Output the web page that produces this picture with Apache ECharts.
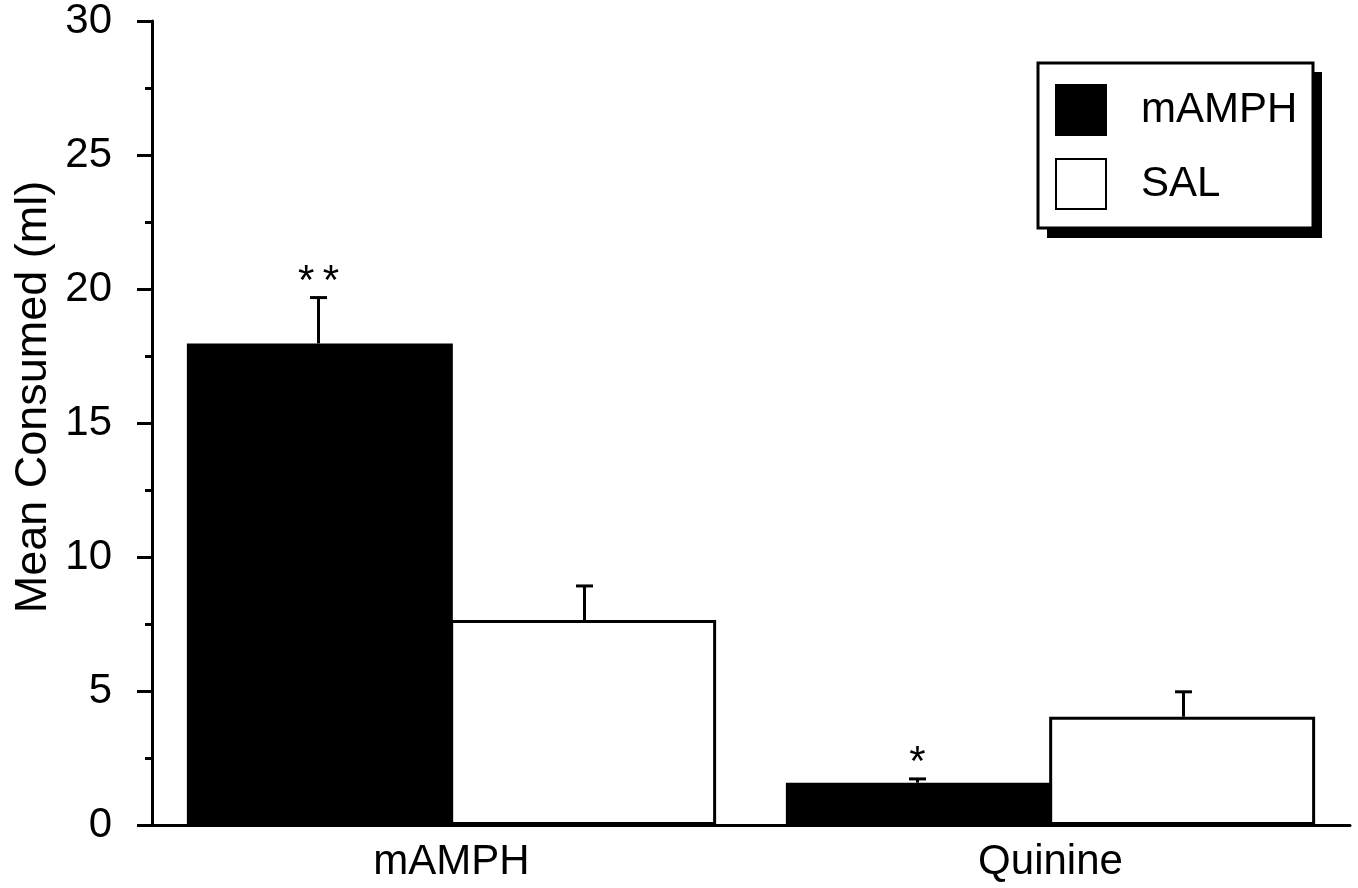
<!DOCTYPE html>
<html>
<head>
<meta charset="utf-8">
<script src="https://cdn.jsdelivr.net/npm/echarts@6/dist/echarts.min.js"></script>
<style>
html,body{margin:0;padding:0;background:#fff;}
#chart{width:1358px;height:888px;}
</style>
</head>
<body>
<div id="chart"></div>
<script>
// ---- data ----
const categories = ['mAMPH', 'Quinine'];
const seriesNames = ['mAMPH', 'SAL'];
const mamphMeans = [17.97, 1.58];
const mamphUpper = [19.68, 1.72];
const salMeans = [7.65, 4.04];
const salUpper = [8.92, 4.97];
const mamphStars = ['**', '*'];
const salStars = ['', ''];
const yTicks = [0, 5, 10, 15, 20, 25, 30];
const yTitle = 'Mean Consumed (ml)';

const FONT = "'Liberation Sans', Arial, sans-serif";
const chart = echarts.init(document.getElementById('chart'));

function errData(means, upper, stars) {
  return means.map((m, i) => [i, m, upper[i], stars[i]]);
}
function errSeries(name, means, upper, stars, sign) {
  return {
    type: 'custom',
    name: name + ' err',
    z: 5,
    silent: true,
    data: errData(means, upper, stars),
    encode: { x: 0, y: [1, 2] },
    renderItem: function (params, api) {
      const xi = api.value(0);
      const top = api.coord([xi, api.value(1)]);
      const hi = api.coord([xi, api.value(2)]);
      const band = api.size([1, 0])[0];
      const cx = top[0] + sign * band * 0.222;
      const cap = 8.5;
      const star = stars[params.dataIndex];
      const children = [
        { type: 'line', shape: { x1: cx, y1: top[1], x2: cx, y2: hi[1] }, style: { stroke: '#000', lineWidth: 3 } },
        { type: 'line', shape: { x1: cx - cap, y1: hi[1], x2: cx + cap, y2: hi[1] }, style: { stroke: '#000', lineWidth: 3 } }
      ];
      if (star) {
        children.push({
          type: 'text',
          style: {
            x: cx, y: hi[1] + 6, text: star.split('').join('\u2009'), fill: '#000',
            font: '42px ' + FONT, textAlign: 'center', textVerticalAlign: 'bottom'
          }
        });
      }
      return { type: 'group', children: children };
    }
  };
}

const option = {
  animation: false,
  backgroundColor: '#fff',
  textStyle: { fontFamily: FONT, color: '#000' },
  grid: { left: 152, right: 8, top: 21, bottom: 63, containLabel: false },
  legend: {
    data: seriesNames,
    orient: 'vertical',
    left: 1038, top: 63,
    z: 20,
    padding: [21, 12, 21, 17],
    itemWidth: 50, itemHeight: 50, itemGap: 22,
    backgroundColor: 'transparent',
    borderWidth: 0,
    icon: 'rect',
    textStyle: { fontSize: 42, fontFamily: FONT, color: '#000', padding: [0, 0, 0, 30] }
  },
  xAxis: {
    type: 'category',
    data: categories,
    axisLine: { lineStyle: { color: '#000', width: 3 } },
    axisTick: { alignWithLabel: true, length: 7, lineStyle: { color: '#000', width: 3 } },
    axisLabel: { fontSize: 42, fontFamily: FONT, color: '#000', margin: 16 },
    splitLine: { show: false }
  },
  yAxis: {
    type: 'value',
    min: yTicks[0], max: yTicks[yTicks.length - 1], interval: 5,
    axisLine: { show: true, lineStyle: { color: '#000', width: 3 } },
    axisTick: { show: true, length: 15, lineStyle: { color: '#000', width: 3 } },
    minorTick: { show: true, splitNumber: 2, length: 7, lineStyle: { color: '#000', width: 3 } },
    axisLabel: { fontSize: 42, fontFamily: FONT, color: '#000', margin: 40 },
    splitLine: { show: false }
  },
  graphic: [
    {
      type: 'rect', z: 1,
      shape: { x: 1047, y: 72, width: 275, height: 166 },
      style: { fill: '#000' }
    },
    {
      type: 'rect', z: 2,
      shape: { x: 1038, y: 63, width: 275, height: 165 },
      style: { fill: '#fff', stroke: '#000', lineWidth: 3 }
    },
    {
      type: 'text',
      x: 34, y: 397,
      rotation: Math.PI / 2,
      style: { text: yTitle, font: '45px ' + FONT, fill: '#000', textAlign: 'center', textVerticalAlign: 'middle' }
    }
  ],
  series: [
    {
      name: seriesNames[0], type: 'bar', data: mamphMeans,
      barWidth: '44.4%', barGap: '-1%',
      itemStyle: { color: '#000', borderColor: '#000', borderWidth: 3 }
    },
    {
      name: seriesNames[1], type: 'bar', data: salMeans,
      barWidth: '44.4%', barGap: '-1%',
      itemStyle: { color: '#fff', borderColor: '#000', borderWidth: 3 }
    },
    errSeries(seriesNames[0], mamphMeans, mamphUpper, mamphStars, -1),
    errSeries(seriesNames[1], salMeans, salUpper, salStars, 1)
  ]
};
chart.setOption(option);
</script>
</body>
</html>
